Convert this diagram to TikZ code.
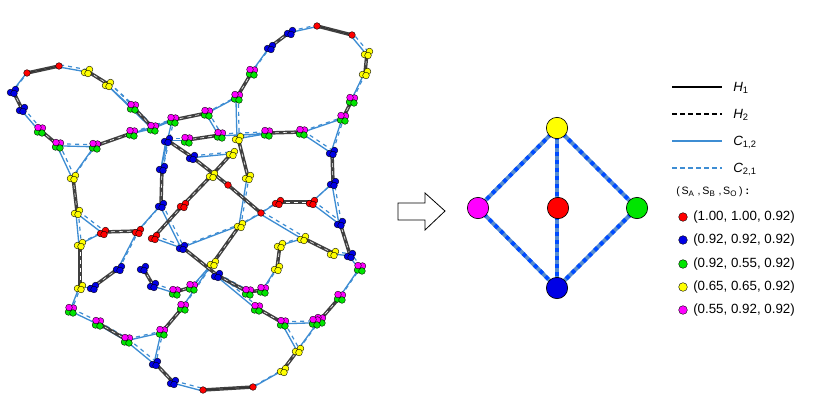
\documentclass[tikz,border=0pt]{standalone}
\usepackage{fontspec}
\setmainfont{Liberation Sans}
\begin{document}
\begin{tikzpicture}[x=0.75pt,y=-0.75pt,
  hl/.style={draw=black!75,line width=2.6pt},
  hin/.style={draw=white,line width=0.4pt,dashed},
  cl/.style={draw=cyan!60!blue!80,line width=1pt,transform canvas={shift={(-0.8pt,-0.6pt)}}},
  cld/.style={draw=cyan!60!blue!80,line width=0.9pt,dashed,transform canvas={shift={(0.9pt,0.9pt)}}},
  dot/.style={circle,draw=black,line width=0.3pt,inner sep=0pt,minimum size=5pt},
  big/.style={circle,draw=black,line width=0.5pt,inner sep=0pt,minimum size=16pt},
  de/.style={draw=cyan!50!blue!70,line width=3pt},
  ded/.style={draw=blue!70!cyan,line width=3pt,dash pattern=on 3pt off 3pt},
  lab/.style={font=\fontsize{10}{12}\selectfont,anchor=west,inner sep=0pt}]
\useasboundingbox (0,0) rectangle (817,418);
\definecolor{cY}{rgb}{1,1,0}\definecolor{cR}{rgb}{1,0,0}\definecolor{cB}{rgb}{0,0,0.9}
\definecolor{cG}{rgb}{0,0.9,0}\definecolor{cM}{rgb}{1,0,1}
\foreach \x/\y in {27/73,59/66,87/71,108/84,13/91,22/109,40/130,58/145,133/107,153/128,95/146,132/133,73/177,77/212,80/244,80/287,71/310,98/323,127/340,155/363,173/382,203/390,253/387,283/370,298/350,320/320,340/297,360/268,350/255,340/223,333/183,332/152,343/118,352/100,365/73,367/53,352/35,317/26,290/32,270/47,252/72,237/97,207/113,173/120,220/135,187/140,167/140,192/157,267/133,302/132,238/138,232/153,212/175,248/177,162/168,161/205,228/185,183/205,261/213,103/232,138/231,154/237,278/202,312/202,240/225,213/263,182/247,217/275,119/268,143/268,153/285,93/287,175/292,192/287,183/307,162/332,303/238,333/253,280/245,277/268,248/292,263/290,257/308,283/323,315/322}
  \coordinate (n\x-\y) at (\x,\y);
% blue connectors
\foreach \a/\b in {59-66/87-71,108-84/133-107,27-73/13-91,22-109/40-130,58-145/73-177,95-146/73-177,58-145/95-146,132-133/153-128,153-128/173-120,77-212/80-244,77-212/103-232,80-244/103-232,80-287/71-310,71-310/98-323,127-340/155-363,173-382/203-390,253-387/283-370,298-350/320-320,340-297/360-268,360-268/350-255,340-223/333-183,332-152/343-118,352-100/365-73,367-53/352-35,317-26/290-32,270-47/252-72,237-97/207-113,207-113/220-135,237-97/238-138,187-140/167-140,173-120/162-168,267-133/238-138,302-132/332-152,302-132/343-118,161-205/138-231,161-205/182-247,154-237/182-247,138-231/119-268,261-213/278-202,261-213/240-225,312-202/333-183,312-202/340-223,248-177/240-225,261-213/303-238,333-253/350-255,213-263/192-287,213-263/183-307,217-275/248-292,217-275/257-308,153-285/175-292,162-332/127-340,162-332/155-363,283-323/298-350,280-245/303-238,277-268/263-290,93-287/80-287,154-237/212-175,283-323/315-322,132-133/173-120,108-84/153-128,220-135/267-133,192-157/232-153,167-140/162-168,80-287/93-287,98-323/127-340,240-225/182-247}
  {\draw[cl] (n\a) -- (n\b); \draw[cld] (n\a) -- (n\b);}
% black connectors
\foreach \a/\b in {27-73/59-66,87-71/108-84,13-91/22-109,40-130/58-145,133-107/153-128,95-146/132-133,73-177/77-212,80-244/80-287,98-323/127-340,155-363/173-382,203-390/253-387,283-370/298-350,320-320/340-297,350-255/340-223,333-183/332-152,343-118/352-100,365-73/367-53,352-35/317-26,290-32/270-47,252-72/237-97,207-113/173-120,220-135/187-140,167-140/192-157,267-133/302-132,238-138/248-177,232-153/212-175,162-168/161-205,228-185/261-213,183-205/154-237,103-232/138-231,278-202/312-202,240-225/213-263,182-247/217-275,119-268/93-287,143-268/153-285,175-292/192-287,183-307/162-332,303-238/333-253,280-245/277-268,248-292/263-290,257-308/283-323,192-157/228-185,212-175/183-205,217-275/248-292}
  {\draw[hl] (n\a) -- (n\b); \draw[hin] (n\a) -- (n\b);}
\draw[black!80,line width=0.8pt] (n27-73)--(n59-66) (n203-390)--(n253-387) (n352-35)--(n317-26);
% clusters
\foreach \p/\c in {27-73/cR,59-66/cR,203-390/cR,253-387/cR,352-35/cR,317-26/cR,228-185/cR,261-213/cR}
  \node[dot,fill=\c] (d\p) at (n\p) {};
\foreach \p/\c in {183-205/cR,103-232/cR,138-231/cR,154-237/cR,278-202/cR,312-202/cR,
  87-71/cY,108-84/cY,73-177/cY,77-212/cY,80-244/cY,80-287/cY,283-370/cY,298-350/cY,365-73/cY,367-53/cY,238-138/cY,232-153/cY,212-175/cY,248-177/cY,240-225/cY,213-263/cY,303-238/cY,333-253/cY,280-245/cY,277-268/cY,
  13-91/cB,22-109/cB,155-363/cB,173-382/cB,350-255/cB,340-223/cB,333-183/cB,332-152/cB,290-32/cB,270-47/cB,167-140/cB,192-157/cB,162-168/cB,161-205/cB,182-247/cB,217-275/cB,119-268/cB,143-268/cB,153-285/cB,93-287/cB}
  {\node[dot,fill=\c] (e\p) at ([shift={(-2.5,1.5)}]n\p) {};
   \node[dot,fill=\c] (f\p) at ([shift={(2.5,-1.5)}]n\p) {};
   \node[dot,fill=\c] (g\p) at ([shift={(1,2.5)}]n\p) {};}
\foreach \p in {40-130,58-145,133-107,153-128,95-146,132-133,71-310,98-323,127-340,320-320,340-297,360-268,343-118,352-100,252-72,237-97,207-113,173-120,220-135,187-140,267-133,302-132,175-292,192-287,183-307,162-332,248-292,263-290,257-308,283-323,315-322}
  {\node[dot,fill=cG] (e\p) at ([shift={(-2.5,2)}]n\p) {};
   \node[dot,fill=cM] (f\p) at ([shift={(2.5,-2)}]n\p) {};
   \node[dot,fill=cG] (g\p) at ([shift={(2,3)}]n\p) {};
   \node[dot,fill=cM] (h\p) at ([shift={(-2,-2.5)}]n\p) {};}
% arrow
\draw[line width=0.6pt] (398,203) -- (425,203) -- (425,193) -- (445,211) -- (425,230) -- (425,220) -- (398,220) -- cycle;
% diamond
\coordinate (T) at (557,128); \coordinate (L) at (478,208); \coordinate (M) at (558,208);
\coordinate (Rr) at (637,208); \coordinate (Bt) at (557,288);
\foreach \a/\b in {T/L,T/Rr,L/Bt,Rr/Bt,T/Bt}{\draw[de] (\a)--(\b); \draw[ded] (\a)--(\b);}
\node[big,fill=cY] (nT) at (T) {};
\node[big,fill=cM] (nL) at (L) {};
\node[big,fill=cR] (nM) at (M) {};
\node[big,fill=cG] (nR) at (Rr) {};
\node[big,fill=cB] (nB) at (Bt) {};
% legend
\coordinate (l1a) at (672,87); \coordinate (l1b) at (722,87);
\coordinate (l2a) at (672,114); \coordinate (l2b) at (722,114);
\coordinate (l3a) at (672,141); \coordinate (l3b) at (722,141);
\coordinate (l4a) at (672,168); \coordinate (l4b) at (722,168);
\draw[black,line width=1pt] (l1a)--(l1b);
\draw[black,line width=1pt,dash pattern=on 3.5pt off 2.5pt] (l2a)--(l2b);
\draw[cyan!60!blue!80,line width=1pt] (l3a)--(l3b);
\draw[cyan!60!blue!80,line width=1pt,dash pattern=on 3.5pt off 2.5pt] (l4a)--(l4b);
\node[lab] (t1) at (733,88) {\textit{H}\textsubscript{1}};
\node[lab] (t2) at (733,115) {\textit{H}\textsubscript{2}};
\node[lab] (t3) at (733,142) {\textit{C}\textsubscript{1,2}};
\node[lab] (t4) at (733,169) {\textit{C}\textsubscript{2,1}};
\node[lab,font=\fontsize{8}{10}\selectfont] (t5) at (676,192) {(\,S\textsubscript{A} ,\,S\textsubscript{B} ,\,S\textsubscript{O}\,) \textbf{:}};
\foreach \y/\c/\t in {217/cR/{(1.00, 1.00, 0.92)},240/cB/{(0.92, 0.92, 0.92)},264/cG/{(0.92, 0.55, 0.92)},287/cY/{(0.65, 0.65, 0.92)},310/cM/{(0.55, 0.92, 0.92)}}
  {\node[dot,minimum size=6.5pt,fill=\c] (k\y) at (683,\y) {};
   \node[lab] (s\y) at (693,\y) {\t};}
\end{tikzpicture}
\end{document}
